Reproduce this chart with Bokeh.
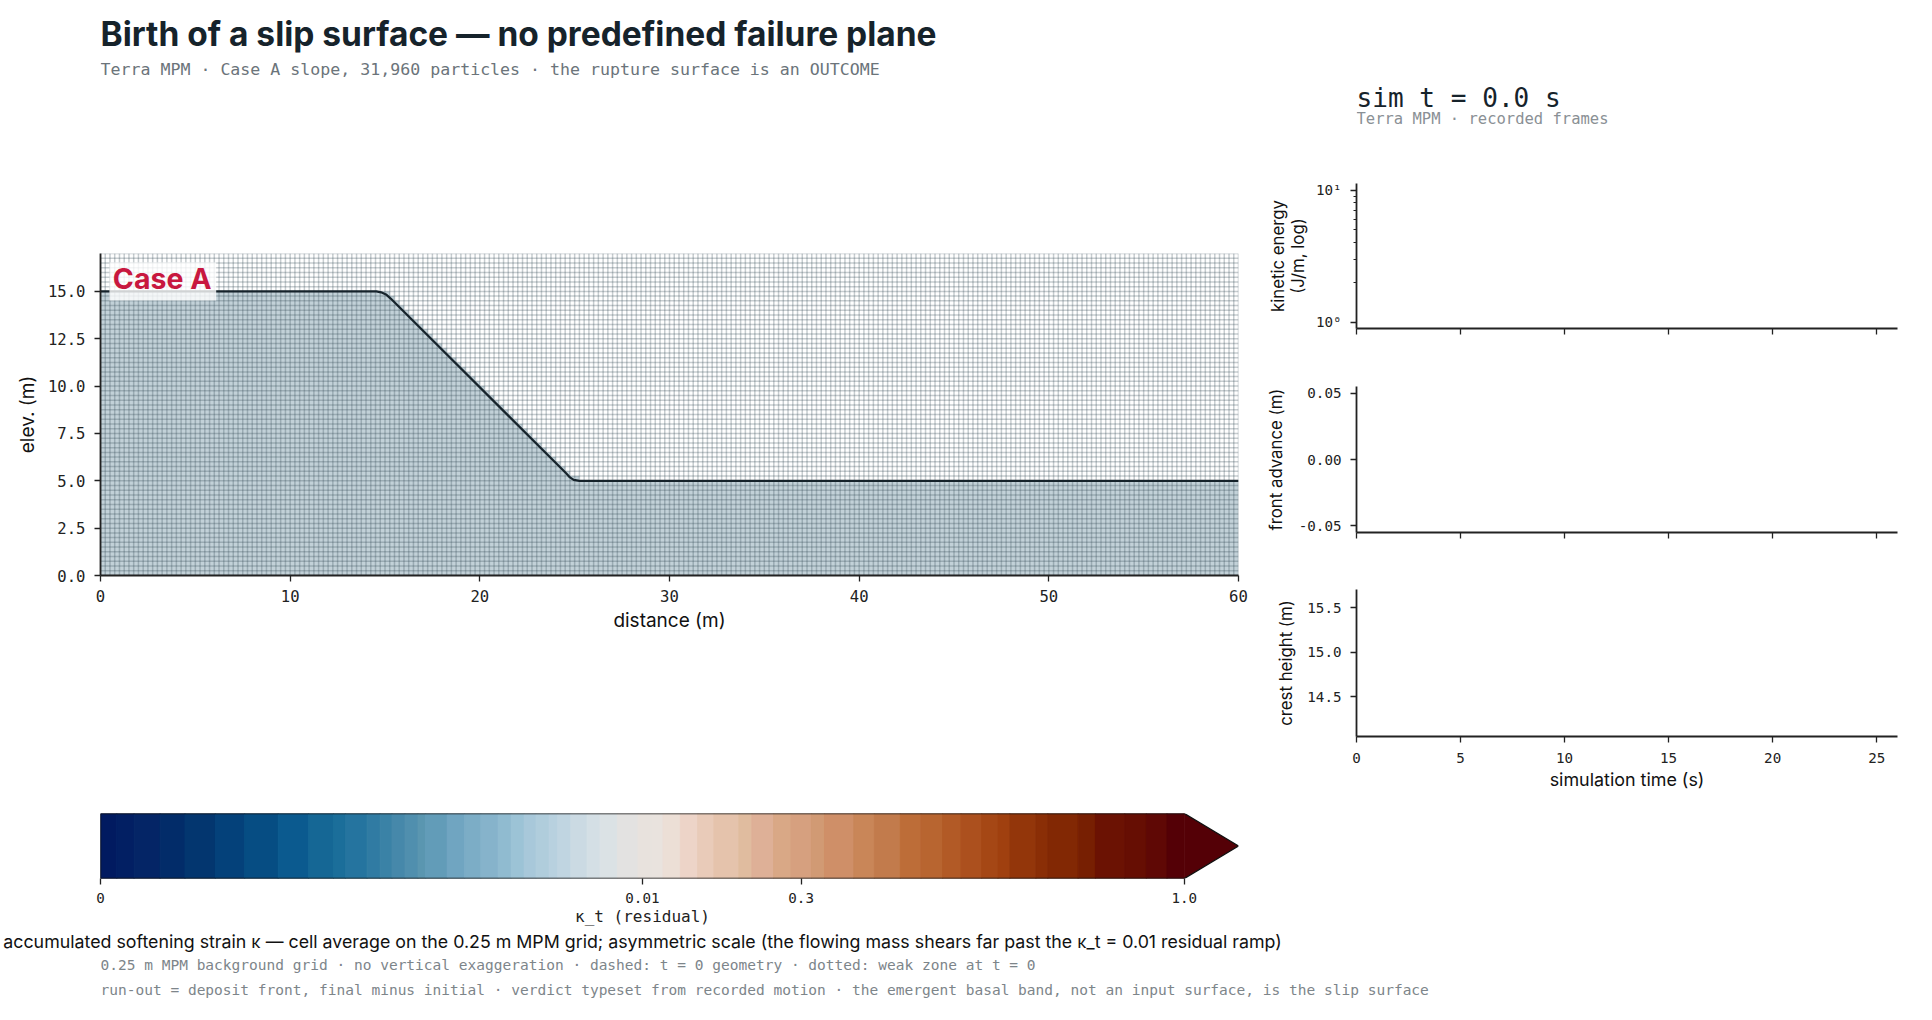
import numpy as np
from bokeh.embed import file_html
from bokeh.layouts import column, row
from bokeh.models import FixedTicker, Label, LinearAxis, NumeralTickFormatter, Range1d
from bokeh.plotting import figure
from bokeh.resources import INLINE

MONO = "DejaVu Sans Mono"
SANS = "Inter"
INK = "#222222"

# ---- texts
title_text = "Birth of a slip surface \u2014 no predefined failure plane"
subtitle_text = "Terra MPM \u00b7 Case A slope, 31,960 particles \u00b7 the rupture surface is an OUTCOME"
clock_text = "sim t = 0.0 s"
clock_sub = "Terra MPM \u00b7 recorded frames"
caption_text = "accumulated softening strain \u03ba \u2014 cell average on the 0.25 m MPM grid; asymmetric scale (the flowing mass shears far past the \u03ba_t = 0.01 residual ramp)"
cbar_label = "\u03ba_t (residual)"
foot_1 = "0.25 m MPM background grid \u00b7 no vertical exaggeration \u00b7 dashed: t = 0 geometry \u00b7 dotted: weak zone at t = 0"
foot_2 = "run-out = deposit front, final minus initial \u00b7 verdict typeset from recorded motion \u00b7 the emergent basal band, not an input surface, is the slip surface"

# ---- slope geometry at t = 0 (m)
surface_x = [0, 14.55, 14.8, 15.05, 15.3, 24.55, 24.75, 24.95, 25.25, 60]
surface_y = [15, 15, 14.95, 14.84, 14.62, 5.4, 5.18, 5.05, 5.0, 5.0]
grid_dx = 0.25
domain_x = 60
domain_y = 17

# ---- colour scale
kappa_ticks = [0, 0.01, 0.3, 1.0]
kappa_labels = ["0", "0.01", "0.3", "1.0"]
band_left = [0, .015, .031, .055, .078, .106, .133, .164, .192, .215, .226, .246, .258, .269, .281, .293, .300, .320,
             .336, .351, .367, .379, .391, .402, .414, .422, .434, .449, .461, .477, .496, .508, .519, .535, .551, .566,
             .589, .601, .621, .637, .656, .668, .695, .714, .738, .757, .777, .794, .813, .828, .839, .863, .874, .902,
             .918, .945, .965, .984]
band_color = ["#011a60", "#021f63", "#042566", "#022c69", "#03366f", "#04417a", "#064d83", "#0b5a8f", "#156795", "#1b6e9a",
              "#25749f", "#307ba3", "#3a82a6", "#4688aa", "#508fae", "#5a96b0", "#629cb8", "#70a5c1", "#7cadc6", "#86b3cb",
              "#90bbd0", "#9cc3d6", "#a8c8da", "#b0cddc", "#b8d1df", "#c0d5e1", "#cbdae3", "#d4dfe5", "#dbe2e5", "#e3e2e1",
              "#e8e2dd", "#e9e3de", "#ecdfd6", "#edd4c8", "#e9cbb9", "#e5c3ac", "#e0bc9f", "#deb097", "#d9a886", "#d6a07f",
              "#d19a74", "#cf8f68", "#c98658", "#c27b4c", "#bd6d38", "#b86530", "#b25a26", "#ac501e", "#a54715", "#a0400f",
              "#93360a", "#8a2e06", "#822804", "#771f02", "#6b1203", "#660e03", "#5f0805", "#540006"]
extend_frac = 0.05

# ---- time panels (no data recorded yet at t = 0)
time_ticks = [0, 5, 10, 15, 20, 25]
time_max = 26
energy_lim = (0.9, 11.2)
energy_ticks = [1, 10]
energy_minor = [2, 3, 4, 5, 6, 7, 8, 9]
front_lim = (-0.055, 0.055)
front_ticks = [-0.05, 0.0, 0.05]
crest_lim = (14.05, 15.708)
crest_ticks = [14.5, 15.0, 15.5]

LEFT_W = 1260
RIGHT_W = 665
R_BORDER = 96


def norm(v):
    return v / 0.01 * 0.5 if v <= 0.01 else 0.5 + 0.5 * (v - 0.01) / 0.99


def canvas(h, y0, x0, x1, left, right):
    p = figure(width=left + (x1 - x0) + right, height=h, x_range=Range1d(x0, x1), y_range=Range1d(y0 + h, y0),
               toolbar_location=None, output_backend="svg", min_border_left=left, min_border_right=right,
               min_border_top=0, min_border_bottom=0, outline_line_color=None, x_axis_type=None, y_axis_type=None)
    p.grid.visible = False
    return p


def put(p, x, y, text, font, size, color, style="normal", align="left"):
    p.add_layout(Label(x=x, y=y, text=text, text_font=font, text_font_size=size, text_color=color,
                       text_font_style=style, text_align=align, text_baseline="middle"))


def style_axis(ax, tick_size="14.2px"):
    ax.axis_line_color = INK
    ax.axis_line_width = 1.8
    ax.major_tick_line_color = INK
    ax.major_tick_line_width = 1.3
    ax.major_tick_out = 6
    ax.major_tick_in = 0
    ax.minor_tick_line_color = None
    ax.major_label_text_font = MONO
    ax.major_label_text_font_size = tick_size
    ax.major_label_text_color = INK
    ax.axis_label_text_font = SANS
    ax.axis_label_text_font_style = "normal"
    ax.axis_label_text_font_size = "16.8px"
    ax.axis_label_text_color = "#111111"


# ---- header
header = canvas(240, 0, 100, 1238, 100, 22)
put(header, 100, 33, title_text, SANS, "33.5px", "#16232b", "bold")
put(header, 100, 69, subtitle_text, MONO, "16.6px", "#6b747a")

# ---- main slope panel
main = figure(width=LEFT_W, height=400, x_range=Range1d(0, domain_x), y_range=Range1d(0, domain_y), toolbar_location=None,
              output_backend="svg", min_border_left=100, min_border_right=22, min_border_top=13, min_border_bottom=65,
              outline_line_color=None)
main.grid.visible = False
columns = np.arange(0, domain_x, grid_dx)
tops = np.ceil(np.interp(columns + grid_dx / 2, surface_x, surface_y) / grid_dx) * grid_dx
poly_x = np.concatenate([[0], np.repeat(columns, 2)[1:], [domain_x, domain_x]])
poly_y = np.concatenate([[0], np.repeat(tops, 2), [0]])
main.patch(poly_x, poly_y, fill_color="#c2d1d8", line_color=None)
gx = np.arange(0, domain_x + grid_dx / 2, grid_dx)
gy = np.arange(0, domain_y + grid_dx / 2, grid_dx)
main.segment(gx, 0, gx, domain_y, line_color="#2f4550", line_alpha=0.27, line_width=1.5)
main.segment(0, gy, domain_x, gy, line_color="#2f4550", line_alpha=0.27, line_width=1.5)
main.line(surface_x, surface_y, line_color="#16232b", line_width=2.2)
main.quad(left=[0.47], right=[6.1], top=[16.54], bottom=[14.52], fill_color="white", fill_alpha=0.8, line_color=None)
main.add_layout(Label(x=0.65, y=15.68, text="Case A", text_font=SANS, text_font_size="28.5px", text_font_style="bold",
                      text_color="#c8183f", text_baseline="middle"))
style_axis(main.xaxis[0], "15.6px")
style_axis(main.yaxis[0], "15.6px")
main.xaxis.ticker = FixedTicker(ticks=list(range(0, 61, 10)))
main.yaxis.ticker = FixedTicker(ticks=[0, 2.5, 5, 7.5, 10, 12.5, 15])
main.yaxis.formatter = NumeralTickFormatter(format="0.0")
main.xaxis.axis_label = "distance (m)"
main.yaxis.axis_label = "elev. (m)"
main.xaxis.axis_label_text_font_size = "19px"
main.yaxis.axis_label_text_font_size = "19px"
main.xaxis.major_label_standoff = 8
main.xaxis.axis_label_standoff = 4
main.yaxis.major_label_standoff = 9
main.yaxis.axis_label_standoff = 6

# ---- colour bar
cbar = figure(width=LEFT_W, height=268, x_range=Range1d(0, 1 + extend_frac), y_range=Range1d(0, 1), toolbar_location=None,
              output_backend="svg", min_border_left=100, min_border_right=22, min_border_top=173, min_border_bottom=30,
              outline_line_color=None, y_axis_type=None)
cbar.grid.visible = False
band_right = band_left[1:] + [1.0]
cbar.quad(left=band_left, right=band_right, bottom=0, top=1, fill_color=band_color, line_color=band_color, line_width=1)
cbar.patch([1, 1 + extend_frac, 1], [0, 0.5, 1], fill_color=band_color[-1], line_color=None)
cbar.line([0, 1, 1 + extend_frac, 1, 0, 0], [1, 1, 0.5, 0, 0, 1], line_color="#111111", line_width=1.4)
style_axis(cbar.xaxis[0])
cbar.xaxis.axis_line_color = None
cbar.xaxis.ticker = FixedTicker(ticks=[norm(v) for v in kappa_ticks])
cbar.xaxis.major_label_overrides = {norm(v): s for v, s in zip(kappa_ticks, kappa_labels)}
cbar.xaxis.major_label_standoff = 8

# ---- right column
rhead = canvas(170, 0, 86, 627, R_BORDER, 28)
put(rhead, 86, 97, clock_text, MONO, "26.1px", "#16232b")
put(rhead, 86, 118, clock_sub, MONO, "15.5px", "#8a9095")


def panel(h, top, bottom, lim, ticks, label, y_type="linear", fmt=None, xlabels=False):
    p = figure(width=RIGHT_W, height=h, x_range=Range1d(0, time_max), y_range=Range1d(*lim), toolbar_location=None,
               y_axis_type=y_type, output_backend="svg", min_border_left=R_BORDER, min_border_right=28,
               min_border_top=top, min_border_bottom=bottom, outline_line_color=None)
    p.grid.visible = False
    style_axis(p.xaxis[0])
    style_axis(p.yaxis[0])
    p.xaxis.ticker = FixedTicker(ticks=time_ticks)
    p.yaxis.axis_label = label
    p.yaxis.axis_label_standoff = 8
    p.yaxis.major_label_standoff = 9
    p.xaxis.major_label_standoff = 7
    if not xlabels:
        p.xaxis.major_label_overrides = {t: "" for t in time_ticks}
    if fmt:
        p.yaxis.formatter = NumeralTickFormatter(format=fmt)
    p.yaxis.ticker = FixedTicker(ticks=ticks)
    return p


p1 = panel(188, 13, 30, energy_lim, energy_ticks, "(J/m, log)", y_type="log")
p1.yaxis.ticker = FixedTicker(ticks=energy_ticks, minor_ticks=energy_minor)
p1.yaxis.minor_tick_line_color = INK
p1.yaxis.minor_tick_line_width = 1
p1.yaxis.minor_tick_out = 3
p1.yaxis.minor_tick_in = 0
p1.yaxis.major_label_overrides = {1: "10\u2070", 10: "10\u00b9"}
p1.yaxis.axis_label_standoff = 5
outer = LinearAxis(ticker=FixedTicker(ticks=[]), axis_line_color=None, major_tick_line_color=None,
                   minor_tick_line_color=None, axis_label="kinetic energy", axis_label_standoff=-3,
                   axis_label_text_font=SANS, axis_label_text_font_style="normal", axis_label_text_font_size="16.8px",
                   axis_label_text_color="#111111", major_tick_out=0, major_label_standoff=0)
p1.add_layout(outer, "left")
p2 = panel(198, 28, 24, front_lim, front_ticks, "front advance (m)", fmt="0.00")
p2.yaxis.axis_label_standoff = 10
p3 = panel(249, 33, 69, crest_lim, crest_ticks, "crest height (m)", fmt="0.0", xlabels=True)
p3.xaxis.axis_label = "simulation time (s)"
p3.xaxis.axis_label_text_font_size = "17.9px"
p3.xaxis.major_label_standoff = 10
p3.xaxis.axis_label_standoff = 3

# ---- bottom texts
foot = canvas(97, 908, 0, 1925, 0, 0)
put(foot, 642, 916, cbar_label, MONO, "16px", INK, align="center")
put(foot, 642, 941, caption_text, SANS, "17.8px", "#111111", align="center")
put(foot, 100, 964, foot_1, MONO, "14.53px", "#7d858a")
put(foot, 100, 989.5, foot_2, MONO, "14.53px", "#7d858a")

layout = column(
    row(column(header, main, cbar, spacing=0), column(rhead, p1, p2, p3, spacing=0), spacing=0),
    foot, spacing=0, margin=(0, 0, 0, 0))

open("out.html", "w").write(file_html(layout, INLINE, title="Birth of a slip surface"))
